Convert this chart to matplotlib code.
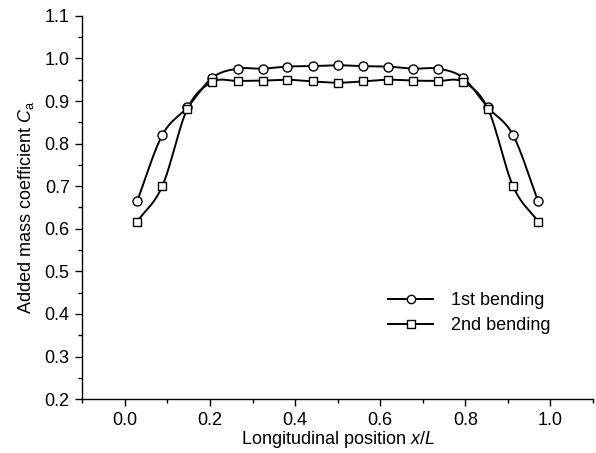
import numpy as np
import matplotlib
matplotlib.use("Agg")
import matplotlib.pyplot as plt
from matplotlib.ticker import MultipleLocator

plt.rcParams['font.family'] = ['Liberation Sans', 'DejaVu Sans']
plt.rcParams['mathtext.fontset'] = 'custom'
plt.rcParams['mathtext.rm'] = 'Liberation Sans'
plt.rcParams['mathtext.it'] = 'Liberation Sans:italic'

# positions along the beam
x_pos = [0.029, 0.088, 0.147, 0.206, 0.265, 0.324, 0.382, 0.441, 0.500,
         0.559, 0.618, 0.676, 0.735, 0.794, 0.853, 0.912, 0.971]
# added mass coefficient for each mode
ca_first = [0.665, 0.820, 0.885, 0.955, 0.976, 0.976, 0.981, 0.982, 0.984,
            0.982, 0.981, 0.976, 0.976, 0.955, 0.885, 0.820, 0.665]
ca_second = [0.617, 0.700, 0.882, 0.945, 0.947, 0.948, 0.950, 0.946, 0.943,
             0.946, 0.950, 0.948, 0.947, 0.945, 0.882, 0.700, 0.617]
labels = ["1st bending", "2nd bending"]


def smooth(x, y, n=30):
    # Catmull-Rom curve through the points, only for drawing the line
    p = np.column_stack([x, y])
    p = np.vstack([2 * p[0] - p[1], p, 2 * p[-1] - p[-2]])
    t = np.linspace(0, 1, n)[:, None]
    out = []
    for i in range(1, len(p) - 2):
        p0, p1, p2, p3 = p[i - 1], p[i], p[i + 1], p[i + 2]
        seg = 0.5 * (2 * p1 + (-p0 + p2) * t + (2 * p0 - 5 * p1 + 4 * p2 - p3) * t ** 2
                     + (-p0 + 3 * p1 - 3 * p2 + p3) * t ** 3)
        out.append(seg if i == 1 else seg[1:])
    out = np.vstack(out)
    return out[:, 0], out[:, 1]


fig = plt.figure(figsize=(5.96, 4.53), dpi=100)
ax = fig.add_axes([0.138, 0.119, 0.857, 0.846])

for ys, mk, lab in [(ca_first, 'o', labels[0]), (ca_second, 's', labels[1])]:
    sx, sy = smooth(x_pos, ys)
    ax.plot(sx, sy, color='black', lw=1.4, zorder=2)
    ax.plot(x_pos, ys, ls='none', marker=mk, ms=6.5 if mk == 'o' else 6,
            mfc='white', mec='black', mew=1.0, zorder=3)
    ax.plot([], [], color='black', lw=1.4, marker=mk, ms=6 if mk == 'o' else 5.5,
            mfc='white', mec='black', mew=1.0, label=lab)

ax.set_xlim(-0.1, 1.1)
ax.set_ylim(0.2, 1.1)
ax.xaxis.set_minor_locator(MultipleLocator(0.1))
ax.yaxis.set_major_locator(MultipleLocator(0.1))
ax.yaxis.set_minor_locator(MultipleLocator(0.05))
ax.set_xticks([0.0, 0.2, 0.4, 0.6, 0.8, 1.0])
ax.tick_params(which='major', direction='out', length=5, width=1, labelsize=13, pad=4)
ax.tick_params(which='minor', direction='out', length=3, width=1)
for s in ['top', 'right']:
    ax.spines[s].set_visible(False)
for s in ['left', 'bottom']:
    ax.spines[s].set_linewidth(1)

ax.set_xlabel("Longitudinal position $\\mathit{x}/\\mathit{L}$", fontsize=13, labelpad=0)
ax.set_ylabel("Added mass coefficient $\\mathit{C}_\\mathrm{a}$", fontsize=13, labelpad=6)

ax.legend(loc='upper left', bbox_to_anchor=(0.585, 0.298), frameon=False,
          fontsize=13, handlelength=2.5, handletextpad=1.0, labelspacing=0.45,
          borderaxespad=0)

fig.savefig("out.png", dpi=100)
